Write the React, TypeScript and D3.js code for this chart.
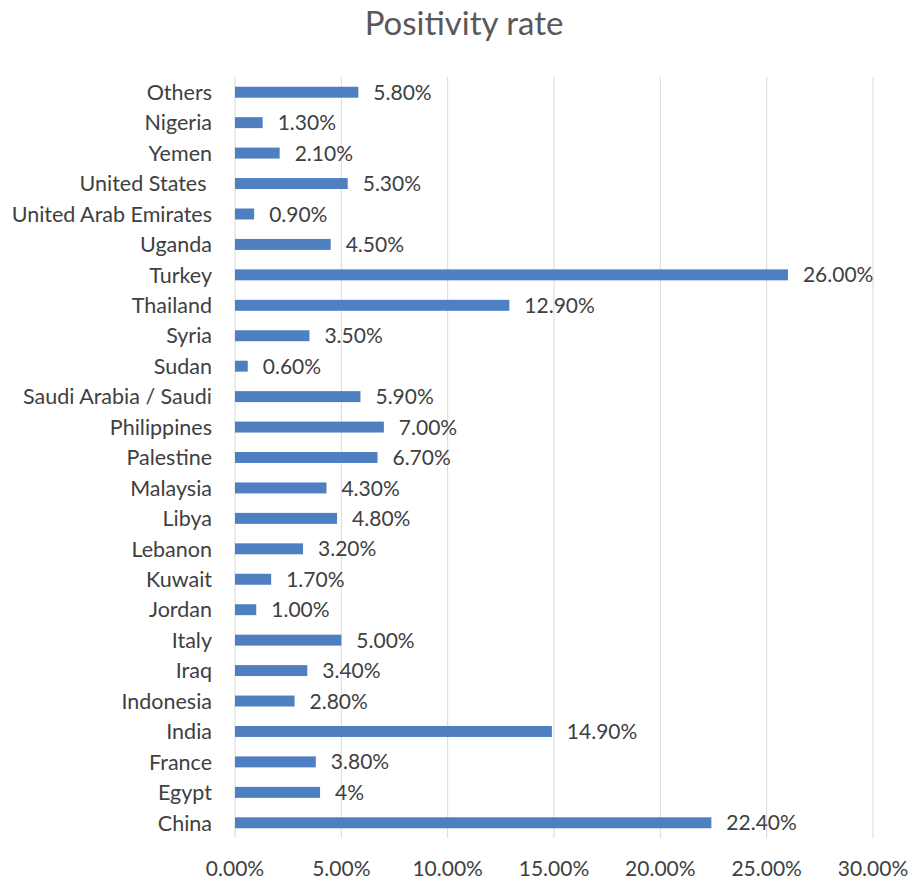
import React from "react";
import * as d3 from "d3";

const categories = [
  "Others", "Nigeria", "Yemen", "United States ", "United Arab Emirates", "Uganda",
  "Turkey", "Thailand", "Syria", "Sudan", "Saudi Arabia / Saudi", "Philippines",
  "Palestine", "Malaysia", "Libya", "Lebanon", "Kuwait", "Jordan", "Italy", "Iraq",
  "Indonesia", "India", "France", "Egypt", "China",
];
const values = [
  5.8, 1.3, 2.1, 5.3, 0.9, 4.5, 26.0, 12.9, 3.5, 0.6, 5.9, 7.0, 6.7, 4.3, 4.8, 3.2,
  1.7, 1.0, 5.0, 3.4, 2.8, 14.9, 3.8, 4.0, 22.4,
];
const valueLabels = [
  "5.80%", "1.30%", "2.10%", "5.30%", "0.90%", "4.50%", "26.00%", "12.90%", "3.50%",
  "0.60%", "5.90%", "7.00%", "6.70%", "4.30%", "4.80%", "3.20%", "1.70%", "1.00%",
  "5.00%", "3.40%", "2.80%", "14.90%", "3.80%", "4%", "22.40%",
];
const xTicks = [0, 5, 10, 15, 20, 25, 30];
const xTickLabels = ["0.00%", "5.00%", "10.00%", "15.00%", "20.00%", "25.00%", "30.00%"];
const title = "Positivity rate";

const W = 908;
const H = 879;
const FONT = "Lato, 'Open Sans', sans-serif";

export default function App() {
  const x = d3.scaleLinear().domain([0, 30]).range([235, 873]);
  const y = d3
    .scaleBand<string>()
    .domain(categories)
    .range([77, 838])
    .paddingInner(0.64)
    .paddingOuter(0.32);

  return (
    <svg
      width={W}
      height={H}
      style={{ position: "absolute", left: 0, top: 0, background: "#fff" }}
      fontFamily={FONT}
    >
      <text x={464} y={35} textAnchor="middle" fontSize={33} fill="#595959">
        {title}
      </text>
      {xTicks.map((t, i) => (
        <g key={t}>
          <line x1={x(t)} x2={x(t)} y1={77} y2={838} stroke="#d9d9d9" strokeWidth={1} />
          <text x={x(t)} y={876} textAnchor="middle" fontSize={21} fill="#404040">
            {xTickLabels[i]}
          </text>
        </g>
      ))}
      {categories.map((c, i) => {
        const yy = y(c)!;
        const bw = y.bandwidth();
        return (
          <g key={c}>
            <rect x={x(0)} y={yy} width={x(values[i]) - x(0)} height={bw} fill="#4e7fc0" />
            <text
              x={212}
              y={yy + bw / 2}
              dy="0.36em"
              textAnchor="end"
              fontSize={21.5}
              fill="#404040"
              style={{ whiteSpace: "pre" }}
            >
              {c}
            </text>
            <text x={x(values[i]) + 15} y={yy + bw / 2} dy="0.36em" fontSize={21} fill="#404040">
              {valueLabels[i]}
            </text>
          </g>
        );
      })}
    </svg>
  );
}
